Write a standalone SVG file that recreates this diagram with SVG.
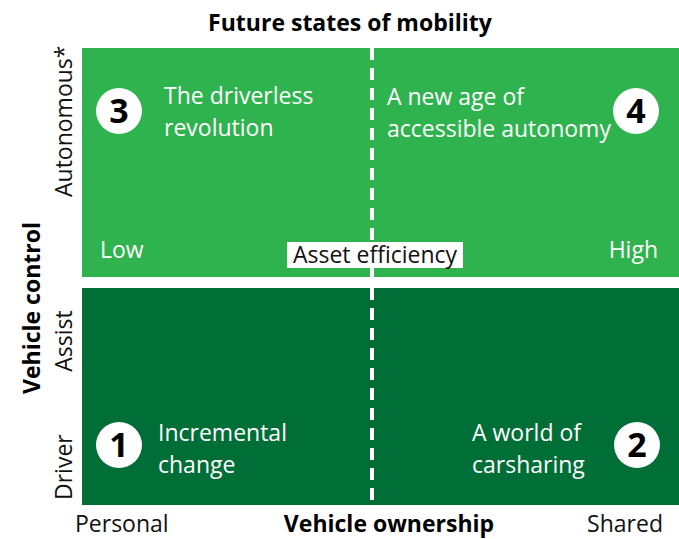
<svg xmlns="http://www.w3.org/2000/svg" width="679" height="539" viewBox="0 0 679 539">
<style>
.t{font-family:"Open Sans","Noto Sans",sans-serif;font-size:23px;fill:#fff}
.k{font-family:"Open Sans","Noto Sans",sans-serif;font-size:23px;fill:#111}
.b{font-family:"Open Sans","Noto Sans",sans-serif;font-size:23px;font-weight:bold;fill:#000}
.n{font-family:"Open Sans","Noto Sans",sans-serif;font-size:34px;font-weight:bold;fill:#000;text-anchor:middle}
.c{fill:#fff}
</style>
<rect width="679" height="539" fill="#fff"/>
<g id="quadrant-top">
<rect x="82" y="48" width="597" height="229" fill="#2fb34e"/>
</g>
<g id="quadrant-bottom">
<rect x="82" y="288" width="597" height="217" fill="#006e37"/>
</g>
<g id="connectors">
<line x1="372" y1="48" x2="372" y2="505" stroke="#fff" stroke-width="4" stroke-dasharray="12,8"/>
</g>
<text class="b" x="350" y="31" text-anchor="middle">Future states of mobility</text>
<g id="node3">
<circle class="c" cx="119" cy="111" r="23"/>
<text class="n" x="119" y="123">3</text>
<text class="t" x="164" y="104">The driverless</text>
<text class="t" x="164" y="136">revolution</text>
</g>
<g id="node4">
<circle class="c" cx="636" cy="111" r="23"/>
<text class="n" x="636" y="123">4</text>
<text class="t" x="387" y="105">A new age of</text>
<text class="t" x="387" y="137">accessible autonomy</text>
</g>
<g id="node1">
<circle class="c" cx="119" cy="445" r="23"/>
<text class="n" x="119" y="457">1</text>
<text class="t" x="158" y="441">Incremental</text>
<text class="t" x="158" y="473">change</text>
</g>
<g id="node2">
<circle class="c" cx="637" cy="445" r="23"/>
<text class="n" x="637" y="457">2</text>
<text class="t" x="472" y="441">A world of</text>
<text class="t" x="472" y="473">carsharing</text>
</g>
<g id="axis-efficiency">
<text class="t" x="100" y="258">Low</text>
<text class="t" x="658" y="258" text-anchor="end">High</text>
<rect x="287" y="242" width="176" height="26" fill="#fff"/>
<text class="k" x="375" y="263" text-anchor="middle">Asset efficiency</text>
</g>
<g id="axis-ownership">
<text class="k" x="75" y="532">Personal</text>
<text class="b" x="389" y="532" text-anchor="middle">Vehicle ownership</text>
<text class="k" x="663" y="532" text-anchor="end">Shared</text>
</g>
<g id="axis-control">
<text class="b" transform="translate(40,308) rotate(-90)" text-anchor="middle">Vehicle control</text>
<text class="k" transform="translate(72,197) rotate(-90)">Autonomous*</text>
<text class="k" transform="translate(72,341) rotate(-90)" text-anchor="middle">Assist</text>
<text class="k" transform="translate(72,500) rotate(-90)">Driver</text>
</g>
</svg>
